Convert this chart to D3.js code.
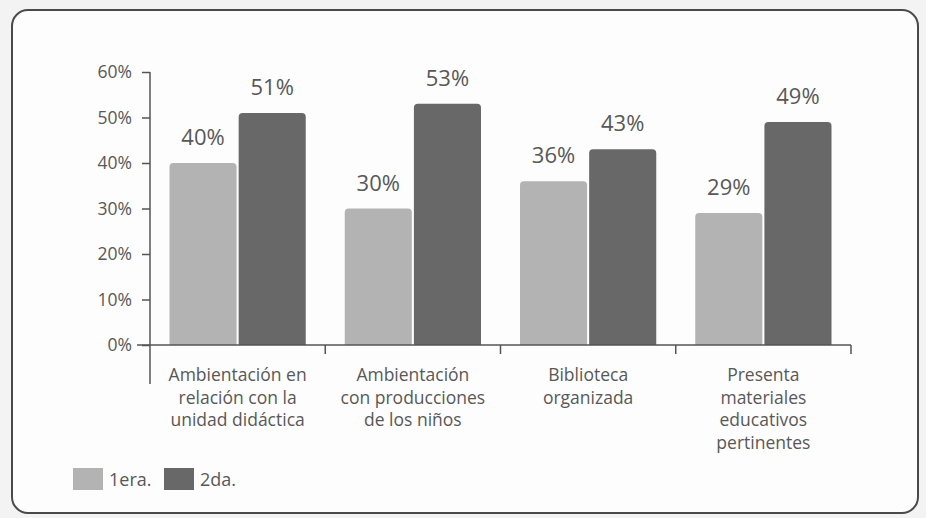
<!DOCTYPE html>
<html>
<head>
<meta charset="utf-8">
<script src="https://cdn.jsdelivr.net/npm/d3@7"></script>
<style>
  html, body { margin: 0; padding: 0; background: #f3f3f3; }
  svg { display: block; }
  text { font-family: "Open Sans", "Noto Sans", sans-serif; fill: #585858; }
</style>
</head>
<body>
<svg id="chart" width="926" height="518"></svg>
<script>
const categories = [
  ["Ambientación en", "relación con la", "unidad didáctica"],
  ["Ambientación", "con producciones", "de los niños"],
  ["Biblioteca", "organizada"],
  ["Presenta", "materiales", "educativos", "pertinentes"]
];
const seriesNames = ["1era.", "2da."];
const valuesPrimera = [40, 30, 36, 29];
const valuesSegunda = [51, 53, 43, 49];
const yTicks = [0, 10, 20, 30, 40, 50, 60];

const colors = { "1era.": "#b3b3b3", "2da.": "#686868" };
const svg = d3.select("#chart");

// frame
svg.append("rect")
  .attr("x", 12).attr("y", 10).attr("width", 906).attr("height", 503)
  .attr("rx", 16).attr("ry", 16)
  .attr("fill", "#fdfdfd").attr("stroke", "#4a4a4a").attr("stroke-width", 2);

const left = 150, right = 851, y0 = 345, yTop = 72;
const catKeys = categories.map((c, i) => i);
const x0 = d3.scaleBand().domain(catKeys).range([left, right]).padding(0);
const x1 = d3.scaleBand().domain(seriesNames).range([19.5, x0.bandwidth() - 19.5]).paddingInner(0.03);
const y = d3.scaleLinear().domain([0, 60]).range([y0, yTop]);

const data = catKeys.map(i => ({ i, vals: [
  { s: "1era.", v: valuesPrimera[i] },
  { s: "2da.", v: valuesSegunda[i] }
]}));

// Y axis
const yAxis = d3.axisLeft(y).tickValues(yTicks).tickFormat(d => d + "%").tickSize(8).tickPadding(10);
const gy = svg.append("g").attr("transform", `translate(${left},0)`).call(yAxis);
gy.select(".domain").remove();
gy.selectAll(".tick line").attr("stroke", "#555").attr("stroke-width", 1.5);
gy.selectAll(".tick text").style("font-size", "17.5px").attr("fill", "#585858");
svg.append("line").attr("x1", left).attr("x2", left).attr("y1", yTop).attr("y2", 384)
  .attr("stroke", "#555").attr("stroke-width", 1.5);

// bars
function topRounded(x, yy, w, h, r) {
  r = Math.min(r, h);
  return `M${x},${yy + h} L${x},${yy + r} Q${x},${yy} ${x + r},${yy} L${x + w - r},${yy} Q${x + w},${yy} ${x + w},${yy + r} L${x + w},${yy + h} Z`;
}
const groups = svg.append("g").selectAll("g").data(data).join("g")
  .attr("transform", d => `translate(${x0(d.i)},0)`);
groups.selectAll("path").data(d => d.vals).join("path")
  .attr("d", d => topRounded(x1(d.s), y(d.v), x1.bandwidth(), y0 - y(d.v), 4))
  .attr("fill", d => colors[d.s]);
groups.selectAll("text.val").data(d => d.vals).join("text")
  .attr("class", "val")
  .attr("x", d => x1(d.s) + x1.bandwidth() / 2)
  .attr("y", d => y(d.v) - 18)
  .attr("text-anchor", "middle")
  .style("font-size", "22px")
  .text(d => d.v + "%");

// X axis
svg.append("line").attr("x1", 137).attr("x2", right).attr("y1", y0).attr("y2", y0)
  .attr("stroke", "#555").attr("stroke-width", 1.5);
catKeys.forEach(i => {
  const xb = x0(i) + x0.bandwidth();
  svg.append("line").attr("x1", xb).attr("x2", xb).attr("y1", y0).attr("y2", y0 + 9)
    .attr("stroke", "#555").attr("stroke-width", 1.5);
});
const labels = svg.append("g").selectAll("text").data(catKeys).join("text")
  .attr("x", i => x0(i) + x0.bandwidth() / 2)
  .attr("y", 381)
  .attr("text-anchor", "middle")
  .style("font-size", "17.5px");
labels.selectAll("tspan").data(i => categories[i]).join("tspan")
  .attr("x", function() { return this.parentNode.getAttribute("x"); })
  .attr("dy", (d, k) => k === 0 ? 0 : 22.5)
  .text(d => d);

// legend
const legendX = [73, 164];
seriesNames.forEach((s, k) => {
  svg.append("rect").attr("x", legendX[k]).attr("y", 468).attr("width", 30).attr("height", 22)
    .attr("fill", colors[s]);
  svg.append("text").attr("x", legendX[k] + 36).attr("y", 486)
    .style("font-size", "18px").text(s);
});
</script>
</body>
</html>
